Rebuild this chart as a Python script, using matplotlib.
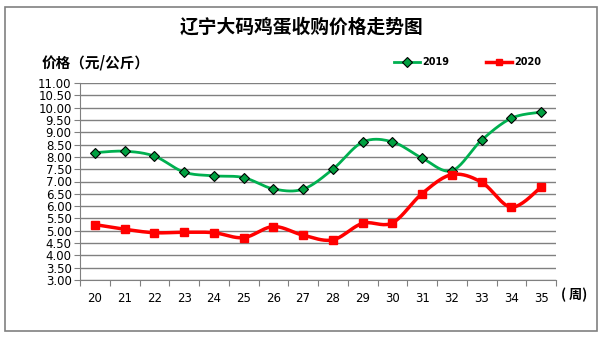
import numpy as np
import matplotlib.pyplot as plt
from matplotlib.patches import Rectangle
from matplotlib.lines import Line2D

plt.rcParams['font.family'] = ['Noto Sans CJK SC', 'DejaVu Sans']

# data
weeks = ['20', '21', '22', '23', '24', '25', '26', '27',
         '28', '29', '30', '31', '32', '33', '34', '35']
price_2019 = [8.17, 8.23, 8.03, 7.38, 7.23, 7.16, 6.70, 6.69,
              7.50, 8.60, 8.61, 7.95, 7.44, 8.68, 9.57, 9.82]
price_2020 = [5.25, 5.06, 4.92, 4.94, 4.92, 4.72, 5.17, 4.82,
              4.63, 5.30, 5.32, 6.51, 7.28, 6.97, 5.96, 6.77]
yticks = np.arange(3.0, 11.01, 0.5)


def smooth(y, n=20):
    # Catmull-Rom curve through the points, like Excel's smoothed line
    y = np.asarray(y, float)
    x = np.arange(len(y), dtype=float)
    P = np.vstack([x, y]).T
    P = np.vstack([P[0], P, P[-1]])
    out = []
    t = np.linspace(0, 1, n, endpoint=False)
    for i in range(1, len(P) - 2):
        p0, p1, p2, p3 = P[i - 1], P[i], P[i + 1], P[i + 2]
        m1 = (p2 - p0) / 2
        m2 = (p3 - p1) / 2
        h00 = 2 * t**3 - 3 * t**2 + 1
        h10 = t**3 - 2 * t**2 + t
        h01 = -2 * t**3 + 3 * t**2
        h11 = t**3 - t**2
        seg = (h00[:, None] * p1 + h10[:, None] * m1
               + h01[:, None] * p2 + h11[:, None] * m2)
        out.append(seg)
    out.append(P[-2][None, :])
    out = np.vstack(out)
    return out[:, 0], out[:, 1]


fig = plt.figure(figsize=(6.03, 3.38), dpi=100)
fig.patches.append(Rectangle((5 / 603, 1 - 331 / 338), 592 / 603, 324 / 338,
                             transform=fig.transFigure, fill=False,
                             edgecolor='#808080', lw=1.2))

ax = fig.add_axes([80 / 603, 1 - 280 / 338, 476 / 603, 197 / 338])
x = np.arange(len(weeks))
green = '#00B050'
red = '#FF0000'

sx, sy = smooth(price_2019)
ax.plot(sx, sy, color=green, lw=2, zorder=3)
ax.plot(x, price_2019, ls='none', marker='D', ms=5.5, mfc='#00A040',
        mec='black', mew=0.8, zorder=4)
sx, sy = smooth(price_2020)
ax.plot(sx, sy, color=red, lw=2.5, zorder=3)
ax.plot(x, price_2020, ls='none', marker='s', ms=6, mfc=red,
        mec=red, zorder=4)

ax.set_xlim(-0.5, len(weeks) - 0.5)
ax.set_ylim(3, 11)
ax.set_yticks(yticks)
ax.set_yticklabels([f'{v:.2f}' for v in yticks], fontsize=8.5,
                   family='DejaVu Sans')
ax.set_xticks(np.arange(-0.5, len(weeks), 1))
ax.set_xticklabels([])
ax.set_xticks(x, minor=True)
ax.set_xticklabels(weeks, minor=True, fontsize=8.5, family='DejaVu Sans')
ax.tick_params(axis='x', which='major', length=4, color='#808080')
ax.tick_params(axis='x', which='minor', length=0, pad=9)
ax.tick_params(axis='y', length=4, color='#808080', pad=2)
ax.grid(axis='y', color='#808080', lw=1)
ax.set_axisbelow(True)
for s in ['top', 'right']:
    ax.spines[s].set_visible(False)
for s in ['left', 'bottom']:
    ax.spines[s].set_color('#808080')

fig.text(0.5, 1 - 27 / 338, '辽宁大码鸡蛋收购价格走势图', ha='center',
         va='center', fontsize=13.5, fontweight='bold')
fig.text(42 / 603, 1 - 62 / 338, '价格（元/公斤）', ha='left', va='center',
         fontsize=10.5, fontweight='bold')
fig.text(561 / 603, 1 - 295 / 338, '( 周)', ha='left', va='center',
         fontsize=9.5, fontweight='bold')

handles = [Line2D([], [], color=green, lw=2, marker='D', ms=5, mfc='#00A040',
                  mec='black', mew=0.8),
           Line2D([], [], color=red, lw=2.5, marker='s', ms=5, mfc=red, mec=red)]
fig.legend(handles, ['2019', '2020'], loc='center', ncol=2,
           bbox_to_anchor=(468 / 603, 1 - 62 / 338), frameon=False,
           prop={'family': 'DejaVu Sans', 'weight': 'bold', 'size': 7},
           handlelength=2.6, columnspacing=3.8, handletextpad=0.3)

fig.savefig('out.png', dpi=100)
